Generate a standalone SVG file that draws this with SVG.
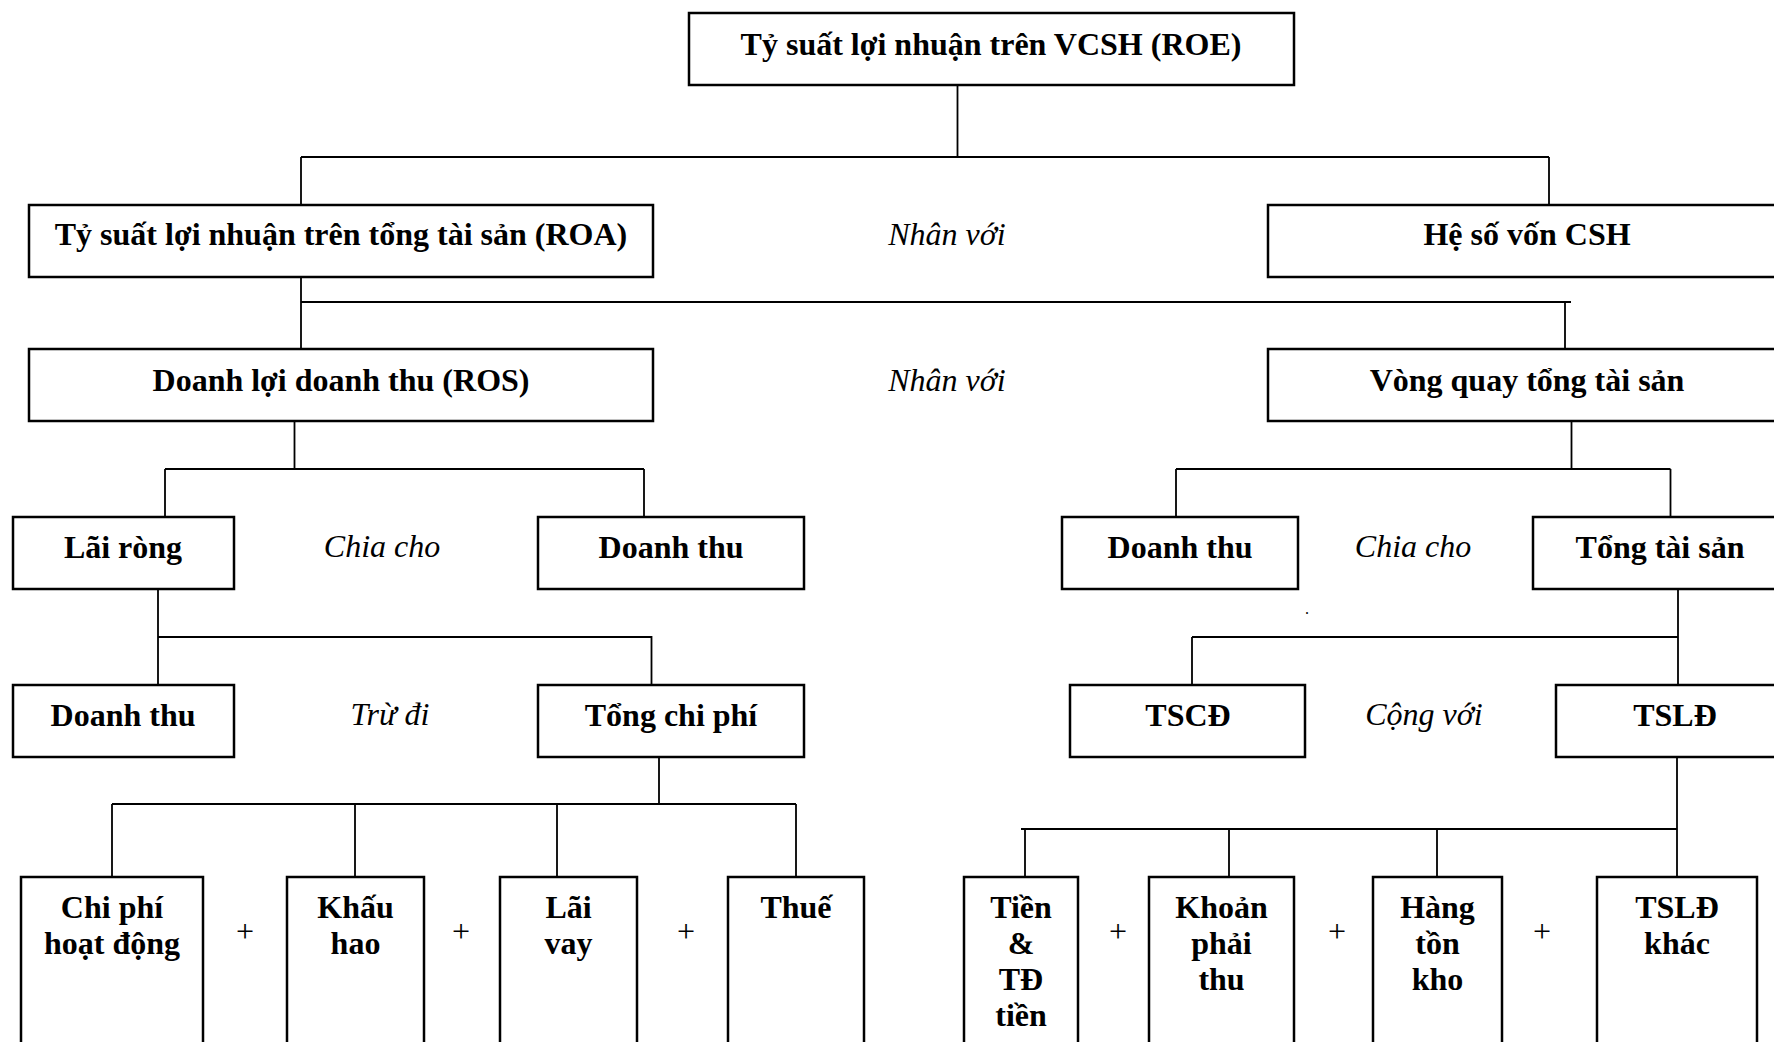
<svg xmlns="http://www.w3.org/2000/svg" width="1774" height="1042" viewBox="0 0 1774 1042">
<style>
  .box { fill: #fff; stroke: #000; stroke-width: 2.5; }
  .t { font-family: "Liberation Serif", "Times New Roman", serif; font-size: 32px; font-weight: bold; fill: #000; text-anchor: middle; }
  .op { font-family: "Liberation Serif", "Times New Roman", serif; font-size: 32px; font-style: italic; fill: #000; text-anchor: middle; }
  .plus { font-family: "Liberation Serif", "Times New Roman", serif; font-size: 32px; fill: #000; text-anchor: middle; }
  .c { fill: none; stroke: #000; stroke-width: 1.8; }
</style>
<rect x="0" y="0" width="1774" height="1042" fill="#fff"/>
<g id="connectors">
  <path class="c" d="M957.5,85 V157 M301,157 H1549 M301,157 V205 M1549,157 V205"/>
  <path class="c" d="M301,277 V349 M301,302 H1571 M1565,302 V349"/>
  <path class="c" d="M294.5,421 V469 M165,469 H644 M165,469 V517 M644,469 V517"/>
  <path class="c" d="M1571.5,421 V469 M1176,469 H1670.5 M1176,469 V517 M1670.5,469 V517"/>
  <path class="c" d="M158,589 V685 M158,637 H651.5 V685"/>
  <path class="c" d="M1678,589 V685 M1192,637 H1678 M1192,637 V685"/>
  <path class="c" d="M659,757 V804 M112,804 H796 M112,804 V877 M355,804 V877 M557,804 V877 M796,804 V877"/>
  <path class="c" d="M1677,757 V877 M1021,829 H1677 M1025,829 V877 M1229,829 V877 M1437,829 V877"/>
</g>
<g id="roe"><rect class="box" x="689" y="13" width="605" height="72"/><text class="t" x="991" y="55">Tỷ suất lợi nhuận trên VCSH (ROE)</text></g>
<g id="roa"><rect class="box" x="29" y="205" width="624" height="72"/><text class="t" x="341" y="245">Tỷ suất lợi nhuận trên tổng tài sản (ROA)</text></g>
<g id="op-nhan1"><text class="op" x="947" y="245">Nhân với</text></g>
<g id="hsvcsh"><rect class="box" x="1268" y="205" width="520" height="72"/><text class="t" x="1527" y="245">Hệ số vốn CSH</text></g>
<g id="ros"><rect class="box" x="29" y="349" width="624" height="72"/><text class="t" x="341" y="391">Doanh lợi doanh thu (ROS)</text></g>
<g id="op-nhan2"><text class="op" x="947" y="391">Nhân với</text></g>
<g id="vongquay"><rect class="box" x="1268" y="349" width="520" height="72"/><text class="t" x="1527" y="391">Vòng quay tổng tài sản</text></g>
<g id="lairong"><rect class="box" x="13" y="517" width="221" height="72"/><text class="t" x="123" y="558">Lãi ròng</text></g>
<g id="op-chia1"><text class="op" x="382" y="557">Chia cho</text></g>
<g id="doanhthu1"><rect class="box" x="538" y="517" width="266" height="72"/><text class="t" x="671" y="558">Doanh thu</text></g>
<g id="doanhthu2"><rect class="box" x="1062" y="517" width="236" height="72"/><text class="t" x="1180" y="558">Doanh thu</text></g>
<g id="op-chia2"><text class="op" x="1413" y="557">Chia cho</text></g>
<g id="tongtaisan"><rect class="box" x="1533" y="517" width="255" height="72"/><text class="t" x="1660" y="558">Tổng tài sản</text></g>
<text x="1307" y="614" style="font-family:'Liberation Serif',serif;font-size:16px;text-anchor:middle">.</text>
<g id="doanhthu3"><rect class="box" x="13" y="685" width="221" height="72"/><text class="t" x="123" y="726">Doanh thu</text></g>
<g id="op-tru"><text class="op" x="390" y="725">Trừ đi</text></g>
<g id="tongchiphi"><rect class="box" x="538" y="685" width="266" height="72"/><text class="t" x="671" y="726">Tổng chi phí</text></g>
<g id="tscd"><rect class="box" x="1070" y="685" width="235" height="72"/><text class="t" x="1188" y="726">TSCĐ</text></g>
<g id="op-cong"><text class="op" x="1424" y="725">Cộng với</text></g>
<g id="tsld"><rect class="box" x="1556" y="685" width="240" height="72"/><text class="t" x="1675" y="726">TSLĐ</text></g>
<g id="chiphihoatdong"><rect class="box" x="21" y="877" width="182" height="200"/><text class="t" x="112" y="918">Chi phí</text><text class="t" x="112" y="954">hoạt động</text></g>
<g id="khauhao"><rect class="box" x="287" y="877" width="137" height="200"/><text class="t" x="355.5" y="918">Khấu</text><text class="t" x="355.5" y="954">hao</text></g>
<g id="laivay"><rect class="box" x="500" y="877" width="137" height="200"/><text class="t" x="568.5" y="918">Lãi</text><text class="t" x="568.5" y="954">vay</text></g>
<g id="thue"><rect class="box" x="728" y="877" width="136" height="200"/><text class="t" x="796" y="918">Thuế</text></g>
<g id="tien"><rect class="box" x="964" y="877" width="114" height="200"/><text class="t" x="1021" y="918">Tiền</text><text class="t" x="1021" y="954">&amp;</text><text class="t" x="1021" y="990">TĐ</text><text class="t" x="1021" y="1026">tiền</text></g>
<g id="khoanphaithu"><rect class="box" x="1149" y="877" width="145" height="200"/><text class="t" x="1221.5" y="918">Khoản</text><text class="t" x="1221.5" y="954">phải</text><text class="t" x="1221.5" y="990">thu</text></g>
<g id="hangtonkho"><rect class="box" x="1373" y="877" width="129" height="200"/><text class="t" x="1437.5" y="918">Hàng</text><text class="t" x="1437.5" y="954">tồn</text><text class="t" x="1437.5" y="990">kho</text></g>
<g id="tsldkhac"><rect class="box" x="1597" y="877" width="160" height="200"/><text class="t" x="1677" y="918">TSLĐ</text><text class="t" x="1677" y="954">khác</text></g>
<g id="plus-signs">
  <text class="plus" x="245" y="942">+</text>
  <text class="plus" x="461" y="942">+</text>
  <text class="plus" x="686" y="942">+</text>
  <text class="plus" x="1118" y="942">+</text>
  <text class="plus" x="1337" y="942">+</text>
  <text class="plus" x="1542" y="942">+</text>
</g>
</svg>
